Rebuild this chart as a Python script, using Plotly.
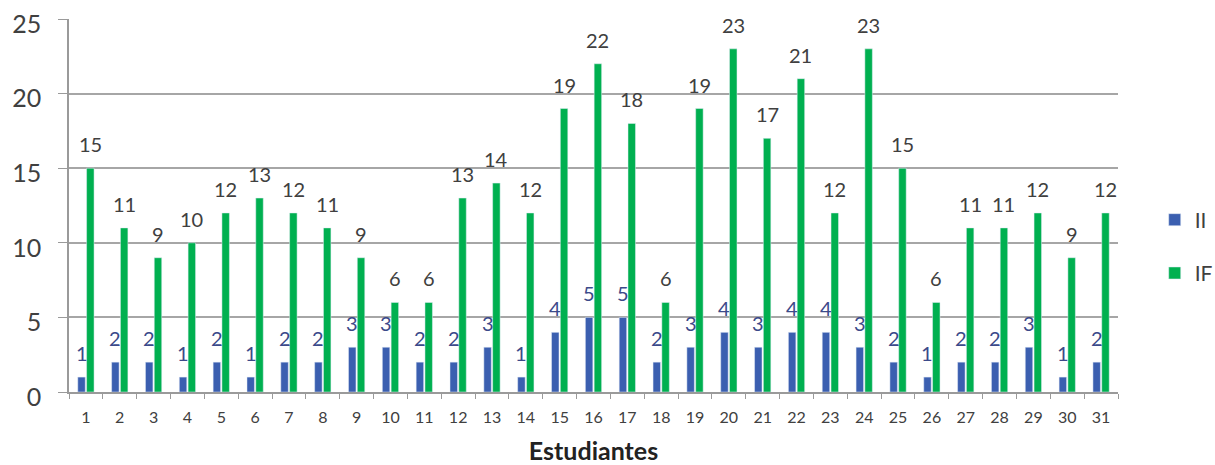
import plotly.graph_objects as go

# Students and their II / IF scores
estudiantes = [str(i) for i in range(1, 32)]
ii_vals = [1, 2, 2, 1, 2, 1, 2, 2, 3, 3, 2, 2, 3, 1, 4, 5, 5, 2, 3, 4, 3, 4, 4, 3, 2, 1, 2, 2, 3, 1, 2]
if_vals = [15, 11, 9, 10, 12, 13, 12, 11, 9, 6, 6, 13, 14, 12, 19, 22, 18, 6, 19, 23, 17, 21, 12, 23, 15, 6, 11, 11, 12, 9, 12]
y_ticks = [0, 5, 10, 15, 20, 25]

BLUE = "#3b5fb0"
GREEN = "#00b050"
FONT = "Lato"

W, H = 1215, 465
M_L, M_R, M_T, M_B = 69, 97, 19, 73
plot_w = W - M_L - M_R
cat_w = plot_w / len(estudiantes)
BARGAP = 0.48
GROUPGAP = 0.15
slot = cat_w * (1 - BARGAP) / 2
bar_shift = slot / 2

fig = go.Figure()
fig.add_trace(go.Bar(name="II", x=estudiantes, y=ii_vals, marker_color=BLUE,
                     legendgroup="ii"))
fig.add_trace(go.Bar(name="IF", x=estudiantes, y=if_vals, marker_color=GREEN,
                     legendgroup="if"))

# value labels floating above each bar (x given as category index)
annotations = []
for i, v in enumerate(ii_vals):
    annotations.append(dict(x=i, y=v, text=str(v), showarrow=False,
                            xshift=-bar_shift, yshift=10, yanchor="bottom",
                            font=dict(family=FONT, size=20, color="#3b4a8a")))
for i, v in enumerate(if_vals):
    annotations.append(dict(x=i, y=v, text=str(v), showarrow=False,
                            xshift=bar_shift, yshift=10, yanchor="bottom",
                            font=dict(family=FONT, size=20, color="#404040")))

fig.update_layout(
    width=W, height=H,
    margin=dict(l=M_L, r=M_R, t=M_T, b=M_B, autoexpand=False),
    paper_bgcolor="white", plot_bgcolor="white",
    barmode="group", bargap=BARGAP, bargroupgap=GROUPGAP,
    font=dict(family=FONT, color="#404040"),
    annotations=annotations,
    legend=dict(x=1.035, y=0.39, xanchor="left", yanchor="middle",
                traceorder="grouped", tracegroupgap=23,
                font=dict(family=FONT, size=21, color="#404040"),
                itemwidth=30),
    xaxis=dict(
        type="category", range=[-0.5, len(estudiantes) - 0.5],
        automargin=False,
        showline=True, linecolor="#9a9a9a", linewidth=1.5,
        ticks="outside", tickson="boundaries", ticklen=5, tickcolor="#9a9a9a",
        tickfont=dict(family=FONT, size=16, color="#404040"),
        ticklabelstandoff=10,
        title=dict(text="<b>Estudiantes</b>", standoff=22,
                   font=dict(family=FONT, size=25, color="#222222")),
    ),
    yaxis=dict(
        range=[0, 25], tickvals=y_ticks, automargin=False,
        showline=True, linecolor="#9a9a9a",
        linewidth=1.5, ticks="outside", ticklen=9, tickcolor="#9a9a9a",
        showgrid=True, gridcolor="#a6a6a6", gridwidth=1.5, zeroline=False,
        tickfont=dict(family=FONT, size=25, color="#404040"),
        ticklabelstandoff=12, ticklabelshift=5,
    ),
)

fig.write_html("out.html")
